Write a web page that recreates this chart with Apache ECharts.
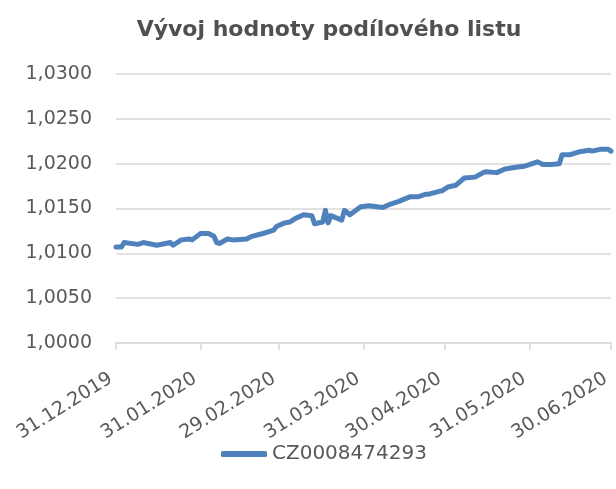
<!DOCTYPE html>
<html>
<head>
<meta charset="utf-8">
<script src="https://cdn.jsdelivr.net/npm/echarts@6/dist/echarts.min.js"></script>
<style>
  html, body { margin: 0; padding: 0; background: #fff; }
  #chart { width: 616px; height: 489px; }
</style>
</head>
<body>
<div id="chart"></div>
<script>
"use strict";
// values (trading days, others left empty)
const seriesName = "CZ0008474293";
const dates = [
  "31.12.2019", "02.01.2020", "03.01.2020", "08.01.2020", "10.01.2020", "15.01.2020",
  "20.01.2020", "21.01.2020", "24.01.2020", "27.01.2020", "28.01.2020", "31.01.2020",
  "03.02.2020", "05.02.2020", "06.02.2020", "07.02.2020", "10.02.2020", "12.02.2020",
  "17.02.2020", "19.02.2020", "24.02.2020", "27.02.2020", "28.02.2020", "02.03.2020",
  "04.03.2020", "06.03.2020", "09.03.2020", "12.03.2020", "13.03.2020", "16.03.2020",
  "17.03.2020", "18.03.2020", "19.03.2020", "23.03.2020", "24.03.2020", "26.03.2020",
  "30.03.2020", "02.04.2020", "07.04.2020", "10.04.2020", "13.04.2020", "17.04.2020",
  "20.04.2020", "23.04.2020", "24.04.2020", "29.04.2020", "01.05.2020", "04.05.2020",
  "07.05.2020", "11.05.2020", "14.05.2020", "15.05.2020", "19.05.2020", "22.05.2020",
  "26.05.2020", "29.05.2020", "03.06.2020", "05.06.2020", "08.06.2020", "11.06.2020",
  "12.06.2020", "15.06.2020", "18.06.2020", "22.06.2020", "23.06.2020", "26.06.2020",
  "29.06.2020", "30.06.2020"
];
const values = [
  1.0107, 1.0107, 1.0112, 1.0110, 1.0112, 1.0109,
  1.0112, 1.0109, 1.0115, 1.0116, 1.0115, 1.0122,
  1.0122, 1.0119, 1.0112, 1.0111, 1.0116, 1.0115,
  1.0116, 1.0119, 1.0123, 1.0126, 1.0130, 1.0134,
  1.0135, 1.0139, 1.0143, 1.0142, 1.0133, 1.0135,
  1.0148, 1.0134, 1.0142, 1.0137, 1.0148, 1.0143,
  1.0152, 1.0153, 1.0151, 1.0155, 1.0158, 1.0163,
  1.0163, 1.0166, 1.0166, 1.0170, 1.0174, 1.0176,
  1.0184, 1.0185, 1.0190, 1.0191, 1.0190, 1.0194,
  1.0196, 1.0197, 1.0202, 1.0199, 1.0199, 1.0200,
  1.0210, 1.0210, 1.0213, 1.0215, 1.0214, 1.0216,
  1.0216, 1.0214
];
const yMin = 1.0, yMax = 1.03, yStep = 0.005;

// every calendar day on the axis, labels at month ends
function fmt(d) {
  const dd = String(d.getDate()).padStart(2, "0");
  const mm = String(d.getMonth() + 1).padStart(2, "0");
  return dd + "." + mm + "." + d.getFullYear();
}
const days = [];
const monthEnd = [];
for (let d = new Date(2019, 11, 31); d <= new Date(2020, 5, 30); d.setDate(d.getDate() + 1)) {
  days.push(fmt(d));
  const n = new Date(d.getFullYear(), d.getMonth(), d.getDate() + 1);
  monthEnd.push(n.getMonth() !== d.getMonth());
}
const lookup = {};
dates.forEach((k, i) => { lookup[k] = values[i]; });
const lineData = days.map((k) => (k in lookup ? lookup[k] : null));

const isEnd = (idx) => monthEnd[idx];
const txt = "#595959";
const font = "DejaVu Sans";
const chart = echarts.init(document.getElementById("chart"));
chart.setOption({
  animation: false,
  title: {
    text: "Vývoj hodnoty podílového listu",
    left: 324, top: 14, textAlign: "center",
    textStyle: { fontFamily: font, fontWeight: "bold", fontSize: 22, color: "#505050" }
  },
  grid: { left: 116, right: 5, top: 74, bottom: 146 },
  legend: {
    top: 439, left: 216,
    itemWidth: 46, itemHeight: 6, itemGap: 4,
    data: [{ name: seriesName, icon: "roundRect" }],
    textStyle: { fontFamily: font, fontSize: 20, color: txt }
  },
  xAxis: {
    type: "category",
    data: days,
    boundaryGap: false,
    axisLine: { lineStyle: { color: "#d9d9d9", width: 1.5 } },
    axisTick: { interval: isEnd, length: 7, lineStyle: { color: "#d9d9d9", width: 1.5 } },
    axisLabel: {
      interval: isEnd, rotate: 32, margin: 31, padding: [0, 6, 0, 0],
      fontFamily: font, fontSize: 19, color: txt
    },
    splitLine: { show: false }
  },
  yAxis: {
    type: "value",
    min: yMin, max: yMax, interval: yStep,
    axisLine: { show: false },
    axisTick: { show: false },
    axisLabel: {
      margin: 24, fontFamily: font, fontSize: 19, color: txt,
      formatter: (v) => v.toFixed(4).replace(".", ",")
    },
    splitLine: { lineStyle: { color: "#d9d9d9", width: 1.5 } }
  },
  series: [{
    name: seriesName,
    type: "line",
    data: lineData,
    connectNulls: true,
    showSymbol: false,
    symbol: "none",
    lineStyle: { color: "#4f81bd", width: 5, cap: "round", join: "round" },
    itemStyle: { color: "#4f81bd" }
  }]
});
</script>
</body>
</html>
